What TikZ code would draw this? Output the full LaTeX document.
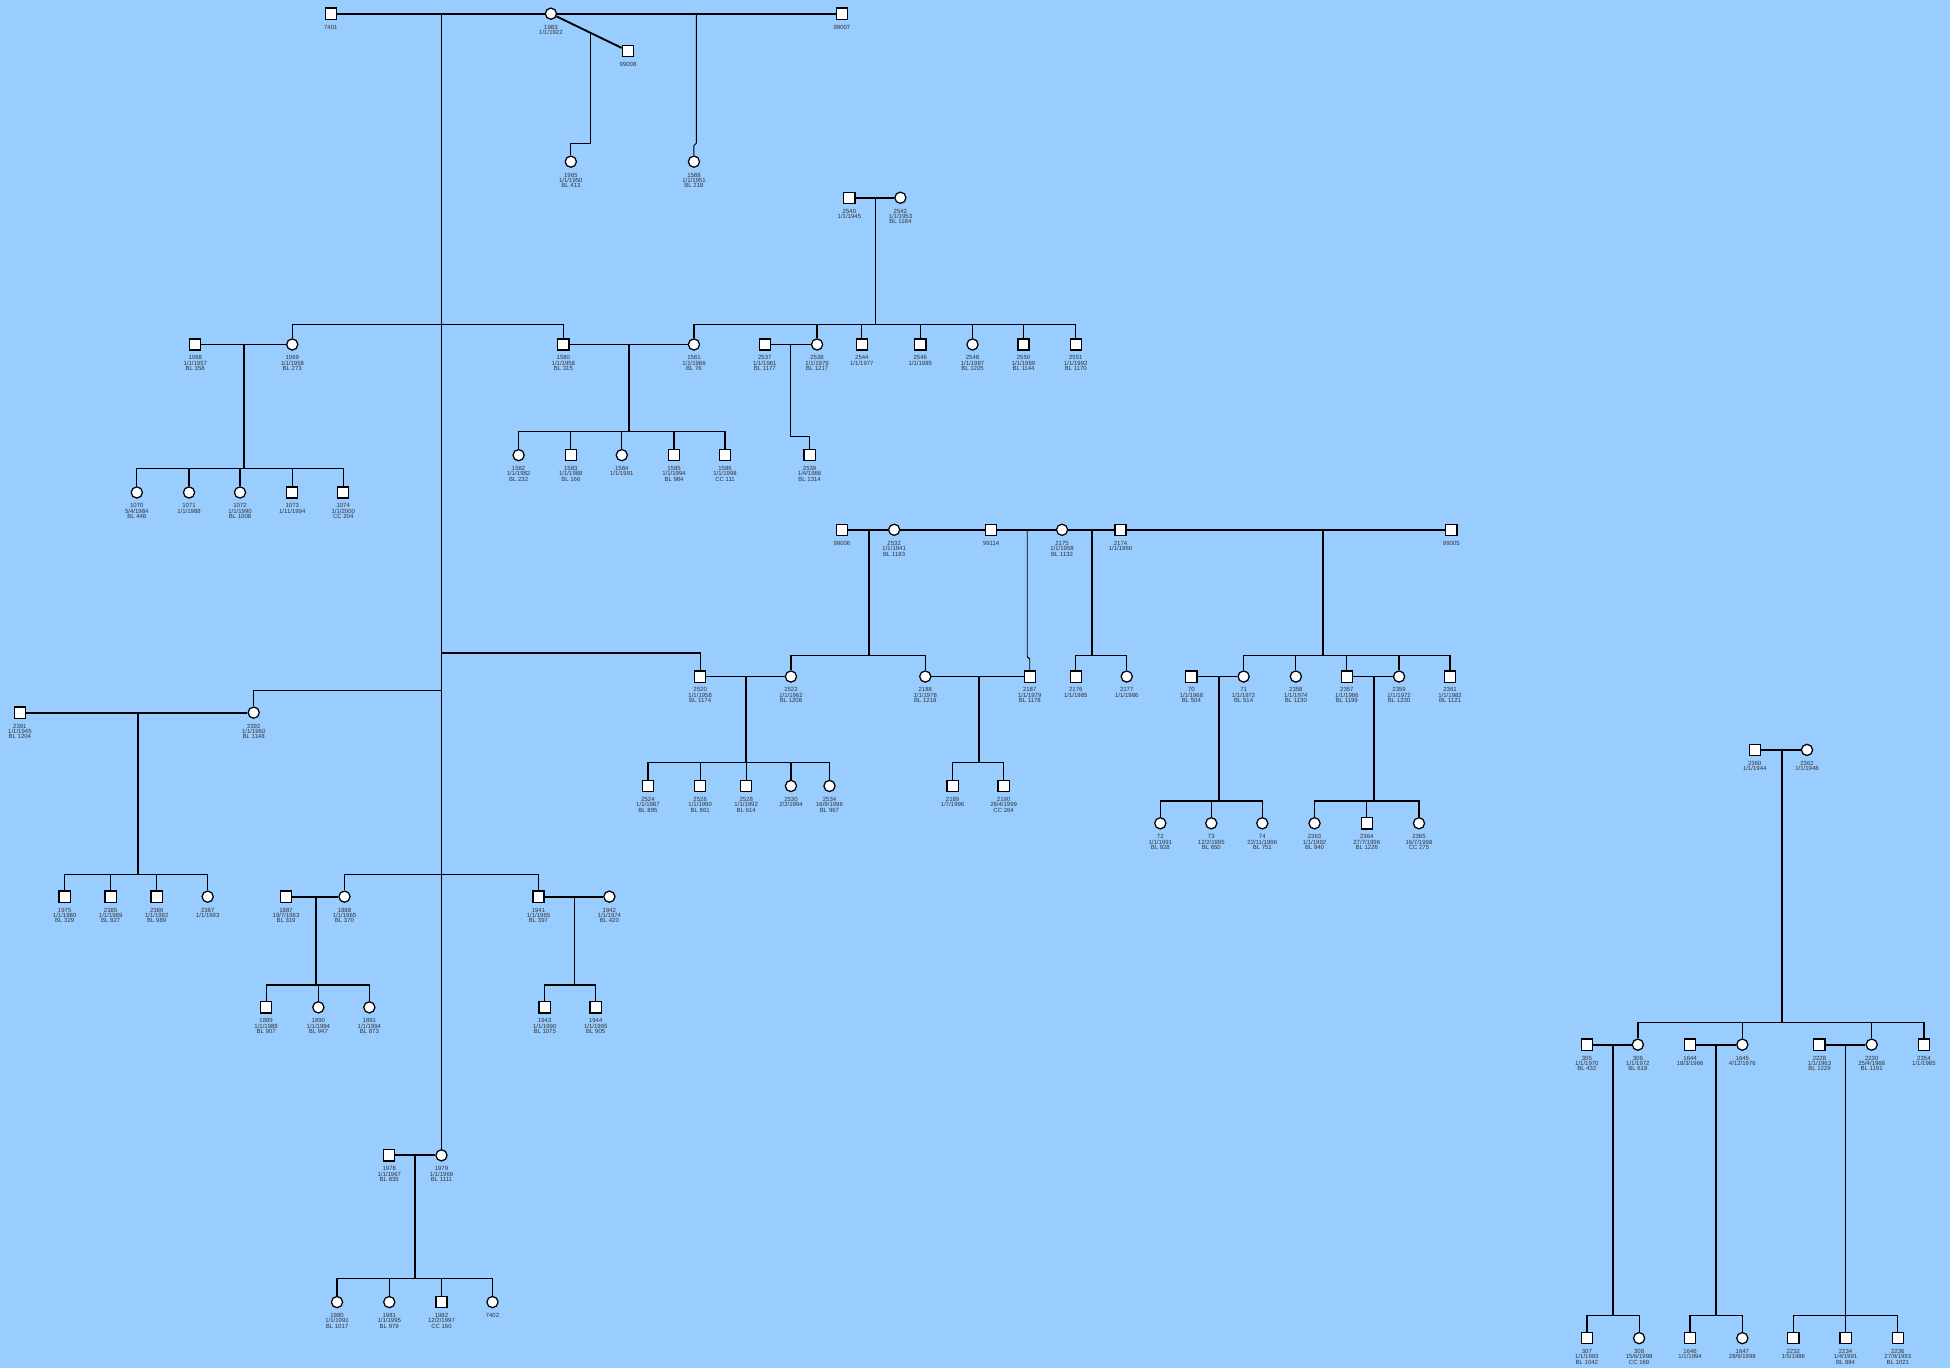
\documentclass[tikz,border=0pt]{standalone}
\usepackage{fontspec}
\setmainfont{Liberation Sans}
\usepackage{tikz}
\usetikzlibrary{
    calc
}
\definecolor{pedbg}{HTML}{99CCFF}
\newcommand{\Person}[4]{%
  \node[#2] (#1) at (#3) {};
  \node[lbl] (#1-t) at ($(#1)+(0,8.7)$) {#4};
}
\newcommand{\Kids}[6][wed]{%
  \coordinate (#2) at (#3,#4);
  \coordinate (#2-s) at (#3,#5);
  \draw[#1] (#2) -- (#2-s);
  \foreach \k in {#6}{\draw[sib] (#2-s) -| (\k);}
}

\begin{document}
\begin{tikzpicture}[x=0.6pt,y=-0.6pt,
  male/.style={draw,fill=white,minimum size=5.4pt,inner sep=0pt,line width=0.6pt},
  female/.style={draw,circle,fill=white,minimum size=5.4pt,inner sep=0pt,line width=0.6pt},
  lbl/.style={anchor=north,inner sep=0pt,align=center,text=black!80,
    font=\fontsize{2.9}{2.6}\selectfont},
  wed/.style={line width=0.9pt},
  sib/.style={line width=0.6pt},
  thinline/.style={line width=0.45pt}]
\fill[pedbg] (0,0) rectangle (1568,1100);
\useasboundingbox (0,0) rectangle (1568,1100);
% generation 1
\Person{p7401}{male}{266,11}{7401}
\Person{p1983}{female}{443,11}{1983\\1/1/1922}
\Person{p99007}{male}{677,11}{99007}
\Person{p99008}{male}{505,41}{99008}
\Person{p1965}{female}{459,130}{1965\\1/1/1950\\BL 413}
\Person{p1588}{female}{558,130}{1588\\1/1/1951\\BL 218}
\Person{p2540}{male}{683,159}{2540\\1/1/1945}
\Person{p2542}{female}{724,159}{2542\\1/1/1953\\BL 1184}
% generation 2
\Person{p1068}{male}{157,277}{1068\\1/1/1957\\BL 358}
\Person{p1069}{female}{235,277}{1069\\1/1/1958\\BL 273}
\Person{p1580}{male}{453,277}{1580\\1/1/1958\\BL 315}
\Person{p1581}{female}{558,277}{1581\\1/1/1966\\BL 76}
\Person{p2537}{male}{615,277}{2537\\1/1/1961\\BL 1177}
\Person{p2538}{female}{657,277}{2538\\1/1/1979\\BL 1217}
\Person{p2544}{male}{693,277}{2544\\1/1/1977}
\Person{p2546}{male}{740,277}{2546\\1/1/1985}
\Person{p2548}{female}{782,277}{2548\\1/1/1987\\BL 1205}
\Person{p2550}{male}{823,277}{2550\\1/1/1989\\BL 1144}
\Person{p2551}{male}{865,277}{2551\\1/1/1992\\BL 1170}
\Person{p1070}{female}{110,396}{1070\\5/4/1984\\BL 448}
\Person{p1071}{female}{152,396}{1071\\1/1/1988}
\Person{p1072}{female}{193,396}{1072\\1/1/1990\\BL 1008}
\Person{p1073}{male}{235,396}{1073\\1/11/1994}
\Person{p1074}{male}{276,396}{1074\\1/1/2000\\CC 204}
\Person{p1582}{female}{417,366}{1582\\1/1/1982\\BL 232}
\Person{p1583}{male}{459,366}{1583\\1/1/1988\\BL 166}
\Person{p1584}{female}{500,366}{1584\\1/1/1991}
\Person{p1585}{male}{542,366}{1585\\1/1/1994\\BL 984}
\Person{p1586}{male}{583,366}{1586\\1/1/1998\\CC 111}
\Person{p2539}{male}{651,366}{2539\\1/4/1986\\BL 1314}
% middle row
\Person{p99006}{male}{677,426}{99006}
\Person{p2532}{female}{719,426}{2532\\1/1/1941\\BL 1183}
\Person{p99114}{male}{797,426}{99114}
\Person{p2175}{female}{854,426}{2175\\1/1/1958\\BL 1132}
\Person{p2174}{male}{901,426}{2174\\1/1/1960}
\Person{p99005}{male}{1167,426}{99005}
\Person{p2520}{male}{563,544}{2520\\1/1/1958\\BL 1174}
\Person{p2522}{female}{636,544}{2522\\1/1/1962\\BL 1208}
\Person{p2188}{female}{744,544}{2188\\1/1/1978\\BL 1218}
\Person{p2187}{male}{828,544}{2187\\1/1/1979\\BL 1178}
\Person{p2176}{male}{865,544}{2176\\1/1/1985}
\Person{p2177}{female}{906,544}{2177\\1/1/1986}
\Person{p70}{male}{958,544}{70\\1/1/1968\\BL 504}
\Person{p71}{female}{1000,544}{71\\1/1/1972\\BL 514}
\Person{p2358}{female}{1042,544}{2358\\1/1/1974\\BL 1130}
\Person{p2357}{male}{1083,544}{2357\\1/1/1966\\BL 1199}
\Person{p2359}{female}{1125,544}{2359\\1/1/1972\\BL 1230}
\Person{p2361}{male}{1166,544}{2361\\1/1/1982\\BL 1121}
\Person{p2391}{male}{16,573}{2391\\1/1/1945\\BL 1204}
\Person{p2392}{female}{204,573}{2392\\1/1/1960\\BL 1148}
\Person{p2360}{male}{1411,603}{2360\\1/1/1944}
\Person{p2362}{female}{1453,603}{2362\\1/1/1948}
\Person{p2524}{male}{521,632}{2524\\1/1/1987\\BL 895}
\Person{p2526}{male}{563,632}{2526\\1/1/1990\\BL 861}
\Person{p2528}{male}{600,632}{2528\\1/1/1992\\BL 914}
\Person{p2530}{female}{636,632}{2530\\2/2/1994}
\Person{p2534}{female}{667,632}{2534\\16/9/1996\\BL 967}
\Person{p2189}{male}{766,632}{2189\\1/7/1996}
\Person{p2190}{male}{807,632}{2190\\26/4/1999\\CC 264}
\Person{p72}{female}{933,662}{72\\1/1/1991\\BL 928}
\Person{p73}{female}{974,662}{73\\12/2/1995\\BL 650}
\Person{p74}{female}{1015,662}{74\\22/11/1996\\BL 751}
\Person{p2363}{female}{1057,662}{2363\\1/1/1992\\BL 840}
\Person{p2364}{male}{1099,662}{2364\\27/7/1996\\BL 1226}
\Person{p2365}{female}{1141,662}{2365\\16/7/1998\\CC 275}
% lower left
\Person{p1975}{male}{52,721}{1975\\1/1/1980\\BL 329}
\Person{p2385}{male}{89,721}{2385\\1/1/1989\\BL 827}
\Person{p2386}{male}{126,721}{2386\\1/1/1992\\BL 989}
\Person{p2387}{female}{167,721}{2387\\1/1/1993}
\Person{p1887}{male}{230,721}{1887\\19/7/1963\\BL 319}
\Person{p1888}{female}{277,721}{1888\\1/1/1965\\BL 370}
\Person{p1941}{male}{433,721}{1941\\1/1/1965\\BL 397}
\Person{p1942}{female}{490,721}{1942\\1/1/1974\\BL 420}
\Person{p1889}{male}{214,810}{1889\\1/1/1989\\BL 907}
\Person{p1890}{female}{256,810}{1890\\1/1/1994\\BL 947}
\Person{p1891}{female}{297,810}{1891\\1/1/1994\\BL 873}
\Person{p1943}{male}{438,810}{1943\\1/1/1990\\BL 1075}
\Person{p1944}{male}{479,810}{1944\\1/1/1995\\BL 905}
\Person{p1978}{male}{313,929}{1978\\1/1/1967\\BL 835}
\Person{p1979}{female}{355,929}{1979\\1/1/1969\\BL 1111}
\Person{p1980}{female}{271,1047}{1980\\1/1/1991\\BL 1017}
\Person{p1981}{female}{313,1047}{1981\\1/1/1995\\BL 979}
\Person{p1982}{male}{355,1047}{1982\\12/2/1997\\CC 160}
\Person{p7402}{female}{396,1047}{7402}
% lower right
\Person{p305}{male}{1276,840}{305\\1/1/1970\\BL 432}
\Person{p306}{female}{1317,840}{306\\1/1/1972\\BL 618}
\Person{p1644}{male}{1359,840}{1644\\18/3/1966}
\Person{p1645}{female}{1401,840}{1645\\4/12/1976}
\Person{p2228}{male}{1463,840}{2228\\1/1/1963\\BL 1229}
\Person{p2230}{female}{1505,840}{2230\\25/4/1968\\BL 1191}
\Person{p2354}{male}{1547,840}{2354\\1/1/1985}
\Person{p307}{male}{1276,1076}{307\\1/1/1993\\BL 1042}
\Person{p308}{female}{1318,1076}{308\\15/6/1998\\CC 169}
\Person{p1646}{male}{1359,1076}{1646\\1/1/1994}
\Person{p1647}{female}{1401,1076}{1647\\28/6/1998}
\Person{p2232}{male}{1442,1076}{2232\\1/5/1986}
\Person{p2234}{male}{1484,1076}{2234\\1/4/1991\\BL 884}
\Person{p2236}{male}{1526,1076}{2236\\27/9/1993\\BL 1021}

% marriages
\draw[wed] (p7401) -- (p1983);
\draw[wed] (p1983) -- (p99007);
\draw[wed] (p1983) -- (p99008);
\draw[wed] (p2540) -- (p2542);
\draw[wed] (p1068) -- (p1069);
\draw[wed] (p1580) -- (p1581);
\draw[wed] (p2537) -- (p2538);
\draw[wed] (p99006) -- (p2532);
\draw[wed] (p2532) -- (p99114);
\draw[wed] (p99114) -- (p2175);
\draw[wed] (p2175) -- (p2174);
\draw[wed] (p2174) -- (p99005);
\draw[wed] (p2520) -- (p2522);
\draw[wed] (p2188) -- (p2187);
\draw[wed] (p70) -- (p71);
\draw[wed] (p2357) -- (p2359);
\draw[wed] (p2391) -- (p2392);
\draw[wed] (p2360) -- (p2362);
\draw[wed] (p1887) -- (p1888);
\draw[wed] (p1941) -- (p1942);
\draw[wed] (p1978) -- (p1979);
\draw[wed] (p305) -- (p306);
\draw[wed] (p1644) -- (p1645);
\draw[wed] (p2228) -- (p2230);

% main line of 7401 x 1983
\coordinate (m7401) at (355,11);
\coordinate (b260) at (355,261);
\coordinate (b525) at (355,525);
\coordinate (b555) at (355,555);
\coordinate (b703) at (355,703);
\draw[wed] (m7401) -- (b703);
\draw[thinline] (b703) -- (p1979);
\draw[sib] (b260) -| (p1069);
\draw[sib] (b260) -| (p1580);
\draw[sib] (b525) -| (p2520);
\draw[sib] (b555) -| (p2392);
\draw[sib] (b703) -| (p1888);
\draw[sib] (b703) -| (p1941);

% other children with a jog
\coordinate (m99008) at (475,26.5);
\coordinate (j1965) at (475,115);
\draw[thinline] (m99008) -- (j1965) -| (p1965);
\coordinate (m99007) at (560,11);
\coordinate (j1588) at (560,115);
\draw[thinline] (m99007) -- (j1588) -- (558,117) -- (p1588);
\coordinate (m2537) at (636,277);
\coordinate (j2539) at (636,351);
\draw[thinline] (m2537) -- (j2539) -| (p2539);
\coordinate (m99114) at (826,426);
\coordinate (j2187) at (826,528);
\draw[thinline] (m99114) -- (j2187) -- (828,530) -- (p2187);

% sibships
\Kids{m2540}{704}{159}{261}{p1581,p2538,p2544,p2546,p2548,p2550,p2551}
\Kids{m1068}{196}{277}{377}{p1070,p1071,p1072,p1073,p1074}
\Kids{m1580}{506}{277}{347}{p1582,p1583,p1584,p1585,p1586}
\Kids{m99006}{699}{426}{527}{p2522,p2188}
\Kids[sib]{m2175}{878}{426}{527}{p2176,p2177}
\Kids{m2174}{1064}{426}{527}{p71,p2358,p2357,p2359,p2361}
\Kids{m2520}{600}{544}{613}{p2524,p2526,p2528,p2530,p2534}
\Kids{m2188}{787}{544}{613}{p2189,p2190}
\Kids{m70}{980}{544}{644}{p72,p73,p74}
\Kids{m2357}{1105}{544}{644}{p2363,p2364,p2365}
\Kids{m2391}{111}{573}{703}{p1975,p2385,p2386,p2387}
\Kids{m1887}{254}{721}{792}{p1889,p1890,p1891}
\Kids{m1941}{462}{721}{792}{p1943,p1944}
\Kids{m2360}{1433}{603}{822}{p306,p1645,p2230,p2354}
\Kids[sib]{m305}{1297}{840}{1058}{p307,p308}
\Kids{m1644}{1380}{840}{1058}{p1646,p1647}
\Kids[sib]{m2228}{1484}{840}{1058}{p2232,p2234,p2236}
\Kids{m1978}{334}{929}{1028}{p1980,p1981,p1982,p7402}
\end{tikzpicture}
\end{document}
